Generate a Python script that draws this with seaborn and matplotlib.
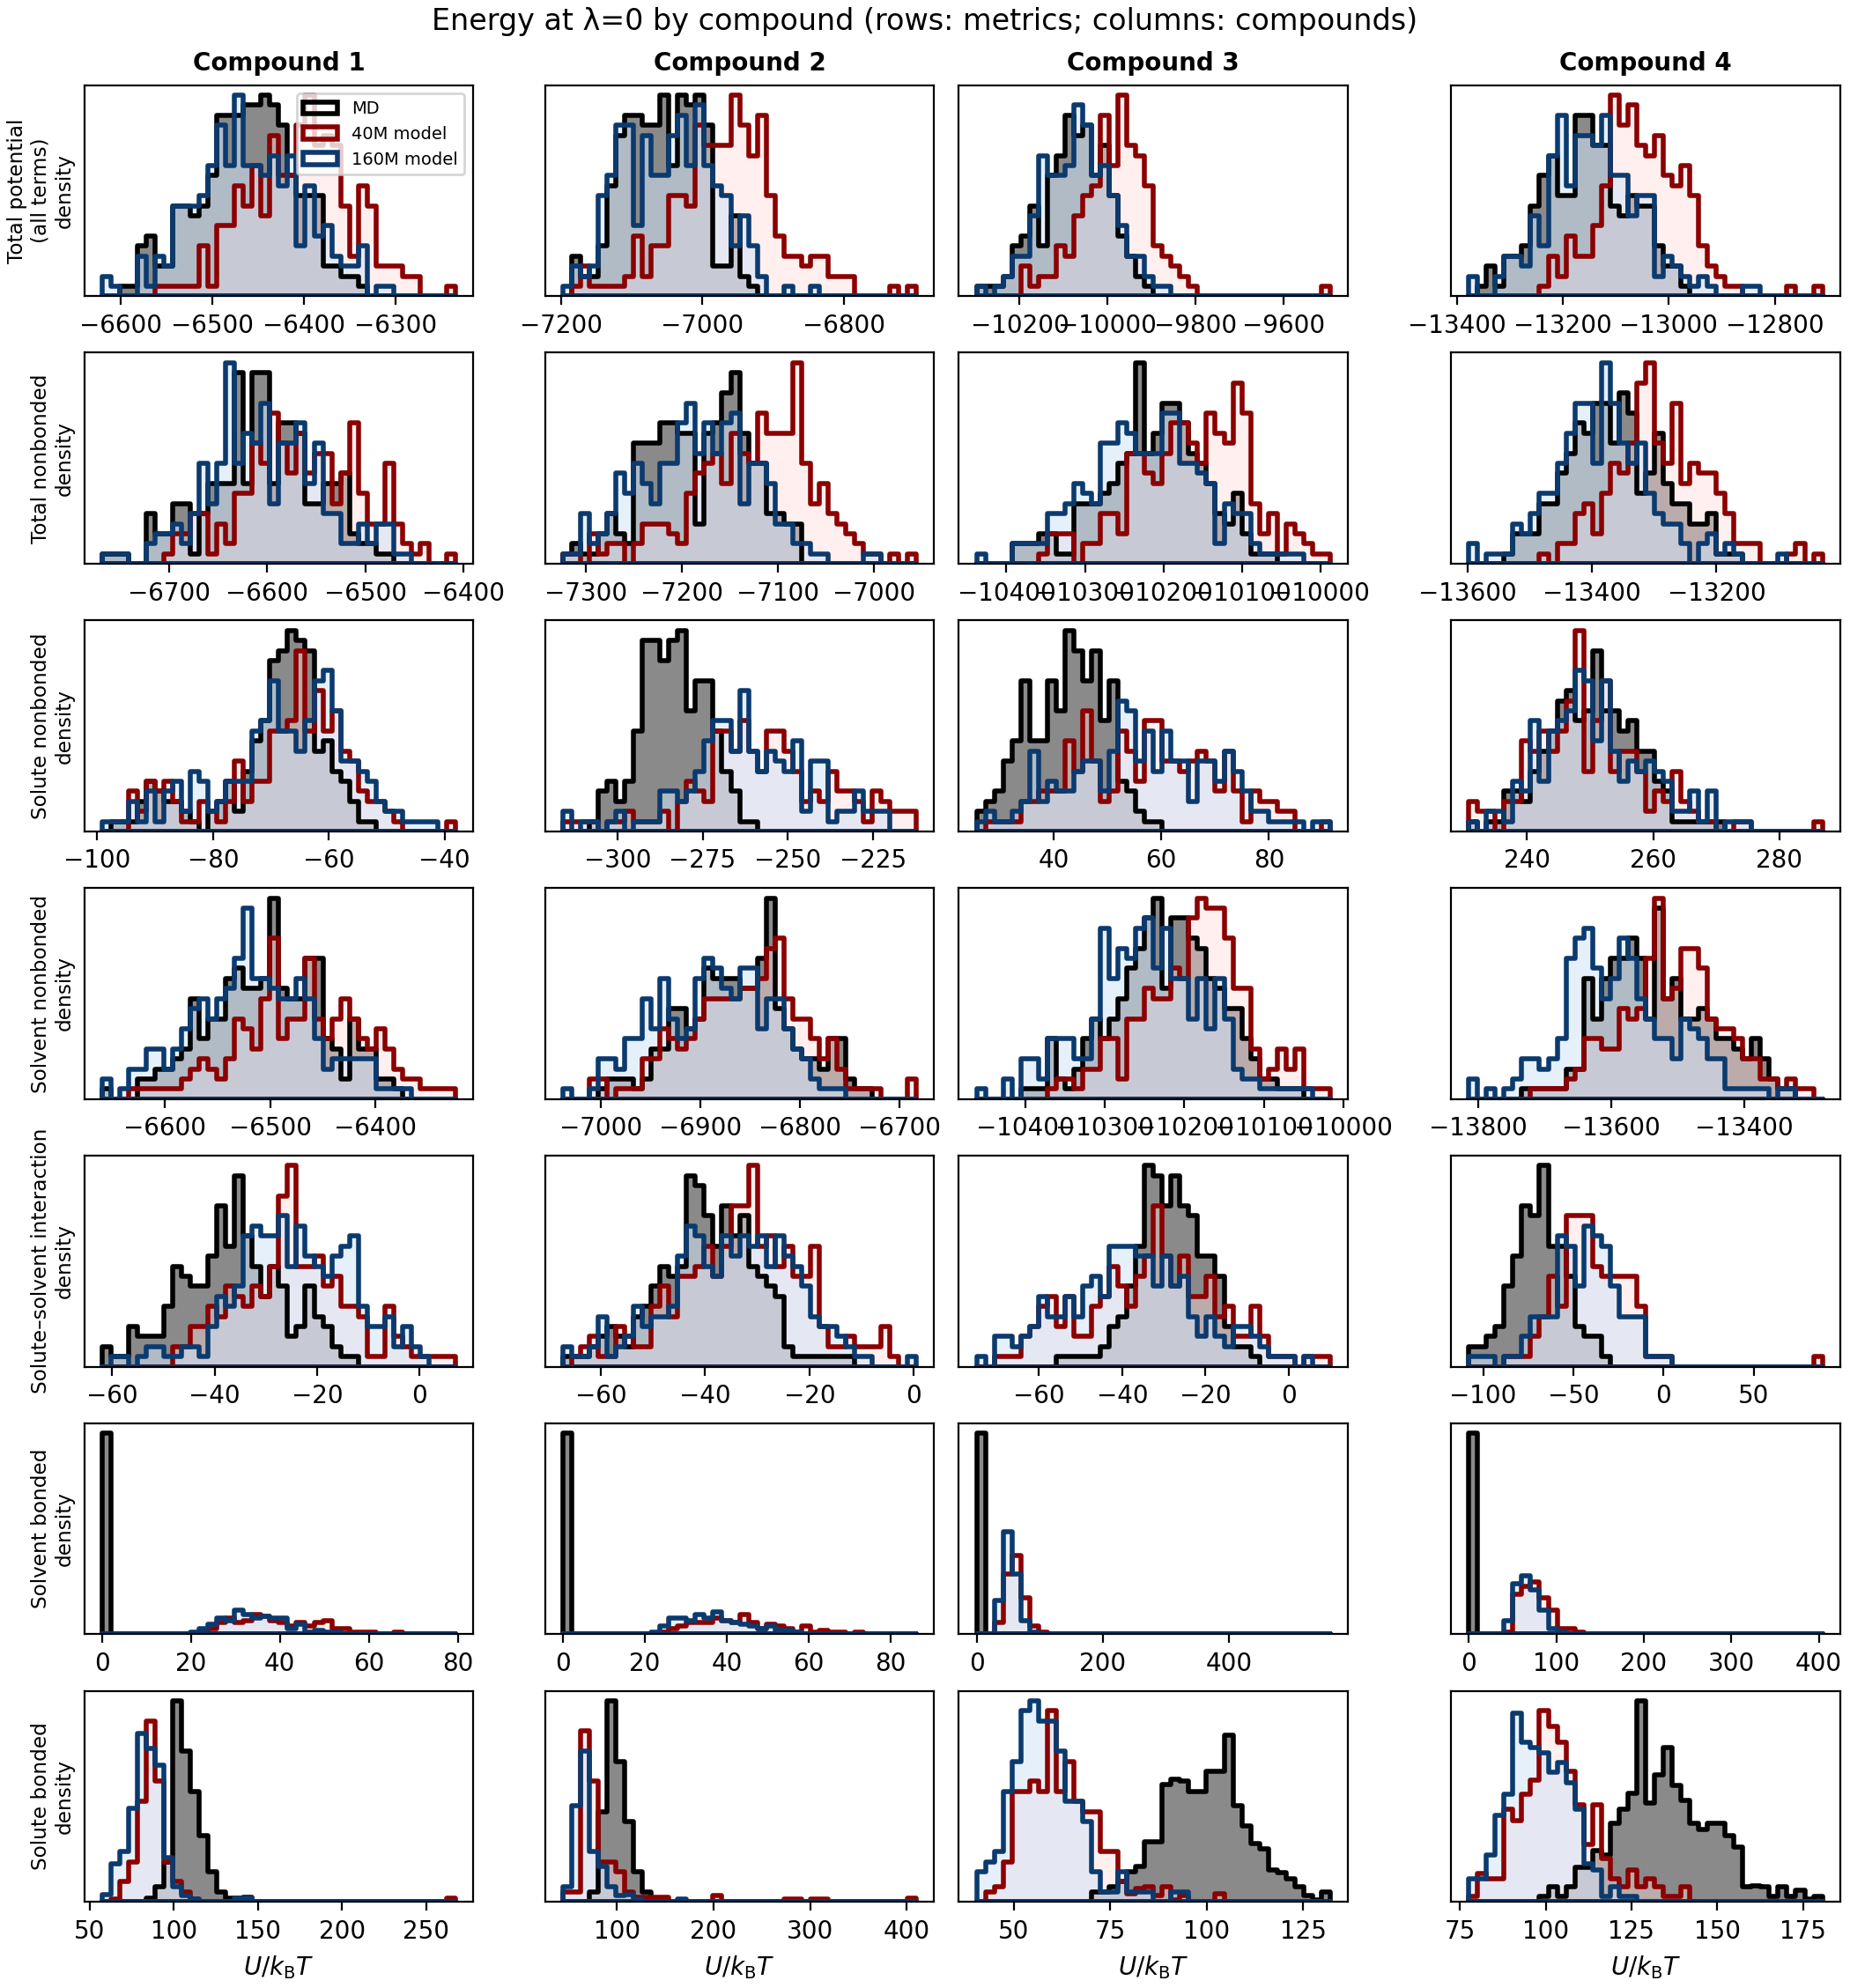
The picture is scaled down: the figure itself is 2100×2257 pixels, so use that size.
import numpy as np
import matplotlib
matplotlib.use("Agg")
import matplotlib.pyplot as plt
import seaborn as sns

compounds = ["Compound 1", "Compound 2", "Compound 3", "Compound 4"]
models = ["MD", "40M model", "160M model"]
metrics = ["Total potential\n(all terms)", "Total nonbonded", "Solute nonbonded",
           "Solvent nonbonded", "Solute\u2013solvent interaction", "Solvent bonded",
           "Solute bonded"]
n_bins = 40

# histogram range (min, max of the pooled data) per compound, and bin heights
total_potential_range = [(-6621, -6234), (-7198, -6697), (-10298, -9493), (-13378, -12710)]
total_potential_md = [
    [0,0,1,1,5,6,3,3,9,9,8,9,12,18,18,18,19,19,20,19,17,12,10,10,10,3,3,2,2,1,0,0,0,0,0,0,0,0,0,0],
    [0,4,2,2,5,11,16,18,18,17,17,20,13,20,19,20,17,3,3,8,2,1,0,0,0,0,0,0,0,0,0,0,0,0,0,0,0,0,0,0],
    [1,1,1,2,5,6,9,5,12,14,18,16,17,12,15,10,6,4,2,1,0,0,0,0,0,0,0,0,0,0,0,0,0,0,0,0,0,0,0,0],
    [0,1,3,1,4,4,5,9,12,14,10,10,18,18,15,15,9,8,10,9,9,5,3,3,1,0,0,0,0,0,0,0,0,0,0,0,0,0,0,0],
]
total_potential_40m = [
    [0,0,0,0,0,0,1,1,1,1,1,5,1,7,7,11,9,13,8,16,12,12,17,20,15,16,15,9,4,11,9,3,3,3,2,2,0,0,0,1],
    [0,1,3,1,1,1,1,2,6,2,5,5,10,10,9,17,15,15,15,20,17,14,18,10,6,4,4,3,4,4,2,2,2,0,0,0,0,1,0,1],
    [0,0,0,0,0,3,1,2,2,5,4,8,10,11,18,13,20,15,14,11,5,4,3,2,1,0,0,0,0,0,0,0,0,0,0,0,0,0,0,1],
    [0,0,0,0,0,0,0,0,1,4,2,6,4,4,7,11,20,17,19,15,14,16,12,11,13,10,5,3,2,1,1,0,0,0,0,0,1,0,0,1],
]
total_potential_160m = [
    [2,1,0,0,4,1,4,3,9,9,9,10,13,17,13,20,13,13,12,14,11,14,5,11,6,7,4,3,3,5,0,1,1,0,0,0,0,0,0,0],
    [1,3,2,3,10,12,17,17,7,16,12,12,16,18,13,19,13,11,10,5,8,5,2,0,0,1,0,0,1,0,0,0,0,0,0,0,0,0,0,0],
    [1,0,1,2,4,4,8,14,12,12,13,19,17,12,13,10,7,4,4,2,1,1,0,0,0,0,0,0,0,0,0,0,0,0,0,0,0,0,0,0],
    [2,0,0,2,4,4,3,8,5,14,18,11,16,16,15,18,12,12,8,10,10,2,4,3,2,1,2,1,0,0,0,1,1,0,0,0,0,0,0,0],
]

total_nonbonded_range = [(-6768, -6408), (-7324, -6956), (-10438, -9988), (-13598, -13030)]
total_nonbonded_md = [
    [1,1,1,0,0,5,3,3,6,6,1,5,8,8,8,19,8,19,19,8,14,14,13,6,6,8,8,9,3,2,2,1,1,0,0,0,0,0,0,0],
    [1,2,1,1,3,5,3,2,12,12,12,14,14,13,13,4,13,14,17,19,13,10,10,5,5,4,4,0,0,0,0,0,0,0,0,0,0,0,0,0],
    [0,0,0,0,2,2,2,3,3,1,1,6,6,6,7,8,10,11,20,11,13,16,16,14,11,10,8,5,4,7,3,1,1,1,0,0,0,0,0,0],
    [0,0,0,0,1,3,3,3,6,6,9,11,14,13,16,16,12,17,15,7,9,13,8,6,6,4,4,5,1,1,1,0,0,0,0,0,0,0,0,0],
]
total_nonbonded_40m = [
    [0,0,0,0,0,0,0,1,3,3,5,5,1,4,2,7,7,12,10,15,12,9,13,9,11,11,6,9,14,7,4,4,10,4,2,1,2,0,0,1],
    [1,1,0,3,1,2,2,0,2,4,4,4,3,2,7,9,10,11,8,13,11,10,15,13,13,13,20,10,6,8,5,4,3,2,1,1,0,1,0,1],
    [0,0,0,0,0,0,0,1,3,3,3,0,2,2,5,5,3,11,11,9,8,11,14,14,12,10,15,13,12,18,15,6,3,5,1,4,3,2,1,1],
    [0,0,0,0,0,0,0,0,1,0,2,2,5,6,3,7,10,9,12,18,20,12,10,16,8,10,9,9,7,5,2,2,2,0,0,0,1,2,0,1],
]
total_nonbonded_160m = [
    [1,1,1,0,0,2,3,3,4,2,5,10,6,10,20,10,13,12,16,6,12,12,14,8,12,5,5,2,2,4,2,4,4,1,1,0,0,0,0,0],
    [1,1,5,2,3,5,9,7,10,8,6,10,10,14,16,11,14,11,14,15,6,10,10,8,4,4,2,2,1,1,0,0,0,0,1,1,0,0,0,0],
    [1,0,0,0,2,2,2,2,5,5,6,8,7,6,12,12,14,13,11,11,11,15,15,10,10,9,8,2,6,5,5,2,1,1,1,1,1,0,0,0],
    [2,0,1,1,1,4,3,5,7,7,10,13,16,16,10,20,16,12,10,12,7,5,4,4,2,0,2,3,1,2,1,0,0,0,0,1,0,0,0,0],
]

solute_nonbonded_range = [(-99.2, -38.1), (-316.0, -212.3), (25.65, 91.4), (230.8, 286.8)]
solute_nonbonded_md = [
    [0,1,1,1,3,5,4,3,3,2,1,0,2,3,5,2,6,9,11,17,18,20,19,18,8,9,6,5,3,1,1,0,0,0,0,0,0,0,0,0],
    [0,0,0,1,4,5,3,5,10,19,19,17,19,20,12,15,15,10,6,4,1,1,0,0,0,0,0,0,0,0,0,0,0,0,0,0,0,0,0,0],
    [2,3,4,7,9,15,9,9,15,12,20,18,15,18,11,15,5,4,2,1,1,0,0,0,0,0,0,0,0,0,0,0,0,0,0,0,0,0,0,0],
    [1,0,1,1,4,4,3,6,8,10,13,14,11,12,18,12,12,10,11,8,8,5,4,1,1,1,1,1,1,0,0,0,0,0,0,0,0,0,0,0],
]
solute_nonbonded_40m = [
    [0,0,0,4,2,5,4,5,3,1,1,3,2,1,3,7,3,5,5,10,10,11,18,10,14,10,12,8,7,4,3,3,2,1,0,0,0,0,0,1],
    [1,1,1,1,0,1,1,2,1,1,1,2,0,3,5,4,3,10,10,8,11,8,6,10,10,8,6,3,4,3,6,4,4,3,1,4,3,2,2,2],
    [0,1,1,1,1,3,3,4,4,4,9,6,12,7,3,4,10,8,5,11,11,7,7,6,7,8,7,4,8,4,1,4,3,3,2,2,0,0,0,1],
    [3,2,2,0,3,3,9,8,10,8,10,13,20,6,11,15,6,8,8,6,2,4,3,6,3,2,1,1,0,0,1,1,0,0,0,0,0,0,0,1],
]
solute_nonbonded_160m = [
    [1,1,1,3,1,4,1,4,5,2,6,5,2,3,5,5,5,10,11,15,10,10,8,11,15,16,12,7,7,6,5,3,2,2,1,1,1,1,0,0],
    [2,0,1,1,0,1,2,0,1,1,1,4,4,3,4,6,9,11,11,8,14,8,6,8,7,6,9,2,7,7,1,2,2,4,2,2,2,0,0,0],
    [1,2,1,1,2,3,8,3,5,4,4,6,7,7,4,8,13,12,7,10,6,10,7,7,3,7,7,5,8,6,4,2,2,1,1,1,1,0,1,1],
    [1,0,2,2,1,5,4,11,5,10,11,12,16,15,9,15,8,5,7,6,7,6,5,2,2,4,1,4,0,1,1,1,0,0,0,0,0,0,0,0],
]

solvent_nonbonded_range = [(-6660, -6324), (-7038, -6683), (-10461, -10017), (-13814, -13283)]
solvent_nonbonded_md = [
    [1,0,0,0,2,2,3,3,4,5,10,6,8,8,12,13,11,11,12,20,11,10,10,14,14,6,5,2,8,5,5,2,2,1,0,0,0,0,0,0],
    [0,0,0,0,1,2,2,2,1,2,5,5,9,9,7,8,13,12,12,12,11,11,14,20,9,7,5,4,4,3,6,6,2,1,1,0,0,0,0,0],
    [0,0,0,0,0,1,1,1,6,2,1,3,6,8,6,8,10,13,15,18,20,11,18,18,16,15,12,11,9,9,6,4,2,2,1,1,1,0,0,0],
    [0,0,0,0,0,0,1,1,1,1,1,3,3,12,8,12,14,14,16,14,8,19,10,12,8,8,9,8,6,6,5,4,6,4,2,1,1,0,0,0],
]
solvent_nonbonded_40m = [
    [0,0,0,1,1,1,1,1,1,2,3,4,3,2,4,8,7,5,10,16,6,8,8,14,8,6,8,10,8,6,5,7,5,3,2,2,1,1,1,1],
    [0,0,0,2,2,0,1,1,1,4,4,7,6,5,6,8,10,10,10,10,11,11,12,15,16,10,8,8,6,4,6,3,1,1,1,1,0,0,0,2],
    [0,0,0,0,0,0,0,0,1,2,2,1,3,3,6,6,2,8,8,11,10,10,13,12,18,20,19,19,16,11,11,5,2,3,5,3,5,1,1,1],
    [0,0,0,0,0,0,0,1,1,1,1,2,3,6,6,5,5,9,8,9,14,20,10,11,15,15,13,8,7,7,6,4,4,2,2,1,2,1,1,0],
]
solvent_nonbonded_160m = [
    [2,0,1,3,3,5,5,3,5,7,9,10,8,10,11,14,19,12,12,11,10,10,12,10,6,3,4,4,4,4,4,1,1,1,1,0,0,0,0,0],
    [1,0,0,1,4,4,3,6,6,10,7,12,8,6,7,12,14,13,11,10,13,13,7,10,10,7,5,4,2,1,1,1,0,0,0,0,0,0,0,0],
    [1,0,0,2,0,4,4,2,6,6,6,4,4,8,17,12,15,14,17,18,13,17,12,12,8,12,7,12,8,3,2,2,1,1,1,1,1,1,0,0],
    [2,0,1,0,1,2,4,4,3,4,6,14,16,17,13,10,12,16,14,10,8,6,6,4,8,7,6,4,4,1,1,1,1,1,0,1,1,0,0,0],
]

solute_solvent_range = [(-62.0, 7.0), (-67.3, 0.5), (-75.0, 10.0), (-108.0, 88.0)]
solute_solvent_md = [
    [2,1,1,4,3,3,3,6,10,9,8,8,11,16,12,19,13,10,7,10,8,3,4,8,5,4,2,1,1,0,0,0,0,0,0,0,0,0,0,0],
    [1,1,1,2,3,4,3,2,5,6,8,10,9,10,19,18,15,12,16,13,15,10,9,8,7,2,1,1,1,1,1,1,1,0,0,0,0,0,0,0],
    [0,0,0,0,0,0,0,0,0,1,1,1,1,1,2,4,5,8,12,20,19,16,19,16,15,11,11,9,4,2,2,1,0,0,0,0,0,0,0,0],
    [2,2,3,4,8,11,16,15,20,12,12,9,4,3,3,1,0,0,0,0,0,0,0,0,0,0,0,0,0,0,0,0,0,0,0,0,0,0,0,0],
]
solute_solvent_40m = [
    [0,0,0,0,0,0,0,0,2,2,4,4,6,5,8,7,6,8,7,10,17,20,10,10,11,8,9,6,6,5,1,1,6,3,2,1,1,1,1,1],
    [0,1,2,3,1,1,4,3,2,2,6,8,5,9,9,10,12,9,12,16,16,20,12,13,10,12,9,9,12,4,2,2,3,2,2,2,4,1,0,0],
    [0,0,1,1,1,3,4,6,7,4,7,3,3,6,7,10,8,6,9,11,16,11,8,11,7,7,9,5,6,3,3,6,3,1,1,1,0,1,1,1],
    [0,0,0,0,1,1,1,3,5,9,6,15,15,15,10,9,9,9,9,6,1,1,1,0,0,0,0,0,0,0,0,0,0,0,0,0,0,0,0,1],
]
solute_solvent_160m = [
    [0,1,1,0,1,2,2,1,1,2,2,1,4,7,6,8,13,14,13,13,15,10,14,11,10,9,11,12,13,6,4,4,5,2,4,2,1,0,0,0],
    [2,1,1,2,5,1,2,3,6,4,5,5,6,11,14,13,10,9,13,11,13,12,13,10,13,11,10,8,5,4,4,3,2,1,1,0,0,0,0,1],
    [1,0,3,3,2,3,4,7,5,5,7,5,8,9,7,12,12,12,11,11,8,11,8,9,5,3,5,3,2,4,4,3,2,1,1,1,0,1,0,0],
    [1,1,1,0,1,1,3,5,5,5,13,12,8,14,13,12,8,5,5,5,1,1,1,0,0,0,0,0,0,0,0,0,0,0,0,0,0,0,0,0],
]

solvent_bonded_range = [(0.0, 79.5), (0.0, 86.3), (0.0, 560.0), (0.0, 404.0)]
solvent_bonded_md = [
    [100,0,0,0,0,0,0,0,0,0,0,0,0,0,0,0,0,0,0,0,0,0,0,0,0,0,0,0,0,0,0,0,0,0,0,0,0,0,0,0],
    [100,0,0,0,0,0,0,0,0,0,0,0,0,0,0,0,0,0,0,0,0,0,0,0,0,0,0,0,0,0,0,0,0,0,0,0,0,0,0,0],
    [100,0,0,0,0,0,0,0,0,0,0,0,0,0,0,0,0,0,0,0,0,0,0,0,0,0,0,0,0,0,0,0,0,0,0,0,0,0,0,0],
    [100,0,0,0,0,0,0,0,0,0,0,0,0,0,0,0,0,0,0,0,0,0,0,0,0,0,0,0,0,0,0,0,0,0,0,0,0,0,0,0],
]
solvent_bonded_40m = [
    [0,0,0,0,0,0,0,0,0,0,0,1,3,6,8,6,7,10,9,7,6,4,6,4,6,7,3,3,1,1,1,0,0,1,0,0,0,0,0,0],
    [0,0,0,0,0,0,0,0,0,0,0,1,3,4,6,6,6,8,7,6,10,6,3,5,4,3,1,4,1,2,1,1,0,1,0,0,0,0,0,0],
    [0,0,6,30,39,18,4,1,0,0,0,0,0,0,0,0,0,0,0,0,0,0,0,0,0,0,0,0,0,0,0,0,0,0,0,0,0,0,0,0],
    [0,0,0,0,1,20,24,26,18,12,3,3,1,0,0,0,0,0,0,0,0,0,0,0,0,0,0,0,0,0,0,0,0,0,0,0,0,0,0,0],
]
solvent_bonded_160m = [
    [0,0,0,0,0,0,0,0,0,0,1,3,5,8,7,12,10,8,9,8,8,3,5,1,2,1,1,0,0,0,0,0,0,0,0,0,0,0,0,0],
    [0,0,0,0,0,0,0,0,0,0,1,4,8,8,7,10,8,11,7,6,5,4,3,4,2,2,1,0,0,0,0,0,0,0,0,0,0,0,0,0],
    [0,0,17,51,30,7,1,0,0,0,0,0,0,0,0,0,0,0,0,0,0,0,0,0,0,0,0,0,0,0,0,0,0,0,0,0,0,0,0,0],
    [0,0,0,0,7,25,29,22,12,3,1,0,0,0,0,0,0,0,0,0,0,0,0,0,0,0,0,0,0,0,0,0,0,0,0,0,0,0,0,0],
]

solute_bonded_range = [(57.4, 267.4), (44.0, 410.0), (40.3, 132.0), (77.6, 180.6)]
solute_bonded_md = [
    [0,0,0,0,0,0.4,1.5,4,20,15,11,6.6,3,1,0.4,0.4,0.5,0,0,0,0,0,0,0,0,0,0,0,0,0,0,0,0,0,0,0,0,0,0,0],
    [0,0,0,1,9,20,14,8,3,1,0,0,0,0,0,0,0,0,0,0,0,0,0,0,0,0,0,0,0,0,0,0,0,0,0,0,0,0,0,0],
    [0,0,0,0,0,0,0,0,0,0,0,0,0,1,1,1.5,2,3,3.5,6,6,11.7,12.2,12,11,11,13,13,16.6,9.6,7.6,5.8,5.3,3.2,2.9,2.3,1.5,0.6,0.2,1],
    [0,0,0,0,0,0,0,0,0.6,1.5,0.6,1.5,3.5,3.5,5.2,4.7,7.9,9.3,10.9,20.2,9.9,12.8,15.5,11.7,10.2,7.9,7.3,7.9,7.9,6.7,5.5,1.5,1.6,1.5,0.6,1.5,0.6,1.2,0.3,0.6],
]
solute_bonded_40m = [
    [0,0.3,2,4,10,18,12,4,2,1,0.3,0,0,0,0,0,0,0,0,0,0,0,0,0,0,0,0,0,0,0,0,0,0,0,0,0,0,0,0,0.4],
    [1,1,17,12,4,4,3,1,0.5,0.5,0.5,0.5,0,0,0,0,0,0.6,0,0,0,0,0,0,0,0.3,0.3,0,0.3,0.3,0,0,0,0,0,0,0,0,0,0.4],
    [0,1,1.5,4,11,11,12,11,19,11,14,10,9,9,5,5,2,0.8,1.3,1.5,0.6,1.5,0.2,0.6,0,0,0,0.8,0,0,0,0,0,0,0,0,0,0,0,0],
    [0.6,2.9,2.3,2.3,9.3,8.2,10.8,12.2,19.2,17.6,16,13.1,9.8,5.8,9.8,4.4,2.3,1.5,3.2,1.5,2.3,1.5,0.6,0.6,1.5,0,0,0,0,0,0,0,0,0,0,0,0,0,0,0],
]
solute_bonded_160m = [
    [0.7,3.8,5,9.3,16.8,15.3,13.6,4.4,1.5,0.6,0.3,0,0,0,0,0.4,0.4,0,0,0,0,0,0,0,0,0,0,0,0,0,0,0,0,0,0,0,0,0,0,0],
    [1.5,9.6,15,5,3.5,1.5,0.6,0.7,0.3,0,0,0,0,0.3,0,0,0,0,0,0,0,0,0,0,0,0,0,0,0,0,0,0,0,0,0,0,0,0,0,0],
    [3,4,5,11,14,19,20,18,18,15,10,10,8,3,1,1,3,1,1,1,0,0,1,1,0,0,0,0,0,0,0,0,0,0,0,0,0,0,0,0],
    [2.3,2.3,4.7,8.7,10.8,19,16,15.5,15,13,14,12,9.3,3.8,3.2,0.6,1.5,0.6,0.6,0,0,0,0,0,0,0,0,0,0,0,0,0,0,0,0,0,0,0,0,0],
]

rows = [
    (total_potential_range, total_potential_md, total_potential_40m, total_potential_160m),
    (total_nonbonded_range, total_nonbonded_md, total_nonbonded_40m, total_nonbonded_160m),
    (solute_nonbonded_range, solute_nonbonded_md, solute_nonbonded_40m, solute_nonbonded_160m),
    (solvent_nonbonded_range, solvent_nonbonded_md, solvent_nonbonded_40m, solvent_nonbonded_160m),
    (solute_solvent_range, solute_solvent_md, solute_solvent_40m, solute_solvent_160m),
    (solvent_bonded_range, solvent_bonded_md, solvent_bonded_40m, solvent_bonded_160m),
    (solute_bonded_range, solute_bonded_md, solute_bonded_40m, solute_bonded_160m),
]

edge_colors = ["black", "#8b0000", "#0b3a6e"]
face_colors = [(0, 0, 0, 0.46), (1.0, 0.86, 0.86, 0.42), (0.82, 0.894, 0.965, 0.55)]

fig = plt.figure(figsize=(10.5, 11.285), dpi=200, layout="constrained")
axes = fig.subplots(len(metrics), len(compounds))

for i, (rng, md, m40, m160) in enumerate(rows):
    for j in range(len(compounds)):
        ax = axes[i, j]
        edges = np.linspace(rng[j][0], rng[j][1], n_bins + 1)
        centers = (edges[:-1] + edges[1:]) / 2
        series = [md[j], m40[j], m160[j]]
        # fills first, outlines on top
        for k, counts in enumerate(series):
            sns.histplot(x=centers, weights=counts, bins=n_bins, binrange=rng[j],
                         element="step", fill=True, stat="count", color=edge_colors[k],
                         facecolor=face_colors[k], linewidth=0, ax=ax)
        for k, counts in enumerate(series):
            sns.histplot(x=centers, weights=counts, bins=n_bins, binrange=rng[j],
                         element="step", fill=True, stat="count", color=edge_colors[k],
                         facecolor="none", linewidth=2, label=models[k], ax=ax)
        ax.set_yticks([])
        ax.set_ylabel(f"{metrics[i]}\ndensity" if j == 0 else "", fontsize=8.33)
        ax.set_xlabel(r"$U/k_\mathrm{B}T$" if i == len(metrics) - 1 else "")
        if i == 0:
            ax.set_title(compounds[j], fontweight="bold", fontsize=10)

axes[0, 0].legend(loc="upper right", fontsize=7)
fig.suptitle("Energy at \u03bb=0 by compound (rows: metrics; columns: compounds)", fontsize=12)
fig.savefig("out.png", dpi=200)
